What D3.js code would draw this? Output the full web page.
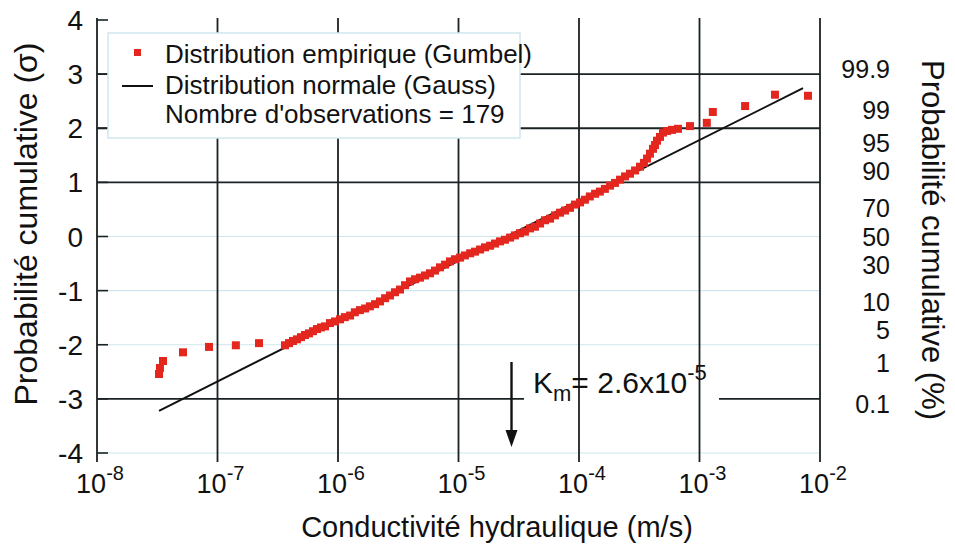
<!DOCTYPE html>
<html><head><meta charset="utf-8">
<script src="https://cdn.jsdelivr.net/npm/d3@7"></script>
<style>body{margin:0;background:#fff}</style>
</head><body>
<svg id="chart" width="955" height="550"></svg>
<script>
// ---------- data ----------
const empiricalK = [
  3.27e-8, 3.33e-8, 3.53e-8, 5.17e-8, 8.50e-8, 1.42e-7, 2.21e-7,
  3.63e-7, 3.92e-7, 4.23e-7, 4.57e-7, 4.93e-7, 5.32e-7, 5.74e-7, 6.20e-7, 6.69e-7, 7.23e-7,
  7.80e-7, 8.58e-7, 9.44e-7, 1.04e-6, 1.14e-6, 1.26e-6, 1.38e-6, 1.52e-6, 1.68e-6, 1.84e-6,
  2.03e-6, 2.23e-6, 2.46e-6, 2.70e-6, 2.97e-6, 3.27e-6, 3.60e-6, 3.96e-6, 4.36e-6, 4.79e-6,
  5.27e-6, 5.80e-6, 6.38e-6, 7.02e-6, 7.73e-6, 8.50e-6, 9.35e-6, 1.03e-5, 1.13e-5, 1.25e-5,
  1.37e-5, 1.51e-5, 1.66e-5, 1.83e-5, 2.01e-5, 2.21e-5, 2.43e-5, 2.68e-5, 2.94e-5, 3.24e-5,
  3.56e-5, 3.92e-5, 4.31e-5, 4.75e-5, 5.22e-5, 5.75e-5, 6.32e-5, 6.96e-5, 7.66e-5, 8.42e-5,
  9.27e-5, 1.02e-4, 1.12e-4, 1.23e-4, 1.36e-4, 1.49e-4, 1.64e-4, 1.81e-4, 1.99e-4, 2.19e-4,
  2.41e-4, 2.65e-4, 2.92e-4, 3.21e-4, 3.46e-4, 3.67e-4, 3.88e-4, 4.11e-4, 4.27e-4, 4.44e-4,
  4.70e-4, 4.98e-4, 5.37e-4, 5.91e-4, 6.63e-4, 8.34e-4, 1.15e-3, 1.29e-3, 2.39e-3, 4.23e-3, 7.95e-3
];
const empiricalSigma = [
  -2.54, -2.43, -2.30, -2.14, -2.04, -2.01, -1.97,
  -2.01, -1.97, -1.93, -1.90, -1.86, -1.82, -1.79, -1.75, -1.71, -1.68,
  -1.66, -1.60, -1.57, -1.53, -1.49, -1.46, -1.40, -1.36, -1.33, -1.29,
  -1.25, -1.20, -1.14, -1.09, -1.03, -0.98, -0.90, -0.83, -0.79, -0.76,
  -0.72, -0.68, -0.63, -0.57, -0.52, -0.46, -0.42, -0.39, -0.35, -0.31,
  -0.28, -0.24, -0.20, -0.17, -0.13, -0.09, -0.06, -0.02, 0.02, 0.06,
  0.09, 0.15, 0.18, 0.24, 0.30, 0.33, 0.39, 0.44, 0.48, 0.53,
  0.59, 0.63, 0.68, 0.74, 0.79, 0.83, 0.88, 0.94, 0.99, 1.05,
  1.11, 1.16, 1.22, 1.29, 1.36, 1.44, 1.53, 1.62, 1.69, 1.77,
  1.84, 1.92, 1.95, 1.97, 1.99, 2.04, 2.10, 2.30, 2.41, 2.62, 2.60
];
const normalK = [3.27e-8, 7.23e-3];
const normalSigma = [-3.22, 2.74];
const Km = 2.6e-5;

const yTickValues = [4, 3, 2, 1, 0, -1, -2, -3, -4];
const yTickLabels = ["4", "3", "2", "1", "0", "-1", "-2", "-3", "-4"];
const darkGridSigma = [3, 2, 1, -3];
const faintGridSigma = [0, -1, -2, -4];
const xTickExponents = [-8, -7, -6, -5, -4, -3, -2];
const probLabels = ["99.9", "99", "95", "90", "70", "50", "30", "10", "5", "1", "0.1"];
const probSigma = [3.09, 2.33, 1.64, 1.28, 0.52, 0, -0.52, -1.28, -1.64, -2.33, -3.09];

const legendLabels = ["Distribution empirique (Gumbel)", "Distribution normale (Gauss)", "Nombre d'observations = 179"];

// ---------- layout ----------
const svg = d3.select("#chart");
const FONT = "'Liberation Sans', Arial, Helvetica, sans-serif";
const pLeft = 97, pRight = 820, pTop = 20, pBottom = 453;
const x = d3.scaleLog().domain([1e-8, 1e-2]).range([pLeft, pRight]);
const y = d3.scaleLinear().domain([-4, 4]).range([pBottom, pTop]);
const dark = "#1b2224";
const red = "#e3271f";

// faint grid
svg.append("g").selectAll("line").data(faintGridSigma).join("line")
  .attr("x1", pLeft).attr("x2", pRight).attr("y1", d => y(d)).attr("y2", d => y(d))
  .attr("stroke", "#cfe6ec").attr("stroke-width", 1.2);
// dark horizontal grid
svg.append("g").selectAll("line").data(darkGridSigma).join("line")
  .attr("x1", pLeft).attr("x2", pRight).attr("y1", d => y(d)).attr("y2", d => y(d))
  .attr("stroke", dark).attr("stroke-width", 1.8);
// left ticks
svg.append("g").selectAll("line").data(yTickValues).join("line")
  .attr("x1", pLeft).attr("x2", pLeft + 11).attr("y1", d => y(d)).attr("y2", d => y(d))
  .attr("stroke", dark).attr("stroke-width", 1.6);

// white background behind Km label
svg.append("rect").attr("x", 524).attr("y", 366).attr("width", 195).attr("height", 46).attr("fill", "#fff");

// vertical grid
svg.append("g").selectAll("line").data(xTickExponents).join("line")
  .attr("x1", d => x(Math.pow(10, d))).attr("x2", d => x(Math.pow(10, d)))
  .attr("y1", pTop - 2).attr("y2", pBottom + 9)
  .attr("stroke", dark).attr("stroke-width", 1.8);

// legend box
svg.append("rect").attr("x", 108).attr("y", 33).attr("width", 412).attr("height", 105)
  .attr("fill", "#fff").attr("stroke", "#cfe8ee").attr("stroke-width", 1.5);

// normal line
const lineData = normalK.map((k, i) => [k, normalSigma[i]]);
svg.append("path").datum(lineData)
  .attr("d", d3.line().x(d => x(d[0])).y(d => y(d[1])))
  .attr("stroke", "#111").attr("stroke-width", 2).attr("fill", "none");

// empirical points
const ms = 8;
svg.append("g").selectAll("rect").data(empiricalK.map((k, i) => [k, empiricalSigma[i]])).join("rect")
  .attr("x", d => x(d[0]) - ms / 2).attr("y", d => y(d[1]) - ms / 2)
  .attr("width", ms).attr("height", ms).attr("fill", red);

// legend contents
svg.append("rect").attr("x", 134).attr("y", 49).attr("width", 7).attr("height", 7).attr("fill", red);
svg.append("line").attr("x1", 122).attr("x2", 153).attr("y1", 86).attr("y2", 86)
  .attr("stroke", "#111").attr("stroke-width", 2);
svg.append("g").selectAll("text").data(legendLabels).join("text")
  .attr("x", 165).attr("y", (d, i) => [63, 94, 123][i])
  .attr("font-family", FONT).attr("font-size", 26).attr("fill", "#111").text(d => d);

// left tick labels
svg.append("g").selectAll("text").data(yTickValues).join("text")
  .attr("x", 83).attr("y", d => y(d)).attr("dy", "0.36em").attr("text-anchor", "end")
  .attr("font-family", FONT).attr("font-size", 28).attr("fill", "#111")
  .text((d, i) => yTickLabels[i]);

// right probability labels (relaxed to avoid overlap)
const py = probSigma.map(s => y(s));
const minGap = 28;
for (let it = 0; it < 40; it++) {
  for (let i = 1; i < py.length; i++) {
    const gap = py[i] - py[i - 1];
    if (gap < minGap) { const d = (minGap - gap) / 2; py[i - 1] -= d; py[i] += d; }
  }
}
svg.append("g").selectAll("text").data(probLabels).join("text")
  .attr("x", 890).attr("y", (d, i) => py[i]).attr("dy", "0.36em").attr("text-anchor", "end")
  .attr("font-family", FONT).attr("font-size", 25).attr("fill", "#111").text(d => d);

// x tick labels
const xl = svg.append("g").selectAll("text").data(xTickExponents).join("text")
  .attr("x", d => x(Math.pow(10, d)) + 3).attr("y", 493).attr("text-anchor", "middle")
  .attr("font-family", FONT).attr("font-size", 27).attr("fill", "#111");
xl.append("tspan").text("10");
xl.append("tspan").attr("dy", -13).attr("font-size", 20).text(d => String(d));

// Km arrow + label
const kx = x(Km) + 3;
svg.append("line").attr("x1", kx).attr("x2", kx).attr("y1", 362).attr("y2", 434)
  .attr("stroke", "#111").attr("stroke-width", 2.4);
svg.append("path").attr("d", `M${kx - 6},${430} L${kx + 6},${430} L${kx},${447} Z`).attr("fill", "#111");
const kt = svg.append("text").attr("x", 533).attr("y", 393)
  .attr("font-family", FONT).attr("font-size", 30).attr("fill", "#111");
kt.append("tspan").text("K");
kt.append("tspan").attr("font-size", 22).attr("dy", 8).text("m");
kt.append("tspan").attr("dy", -8).text("= 2.6x10");
kt.append("tspan").attr("font-size", 22).attr("dy", -13).text("-5");

// axis titles
svg.append("text").attr("transform", "translate(37,224) rotate(-90)").attr("text-anchor", "middle")
  .attr("font-family", FONT).attr("font-size", 32).attr("fill", "#111").text("Probabilité cumulative (σ)");
svg.append("text").attr("transform", "translate(922,240) rotate(90)").attr("text-anchor", "middle")
  .attr("font-family", FONT).attr("font-size", 31).attr("fill", "#111").text("Probabilité cumulative (%)");
svg.append("text").attr("x", 497).attr("y", 537).attr("text-anchor", "middle")
  .attr("font-family", FONT).attr("font-size", 29).attr("fill", "#111").text("Conductivité hydraulique (m/s)");
</script>
</body></html>
